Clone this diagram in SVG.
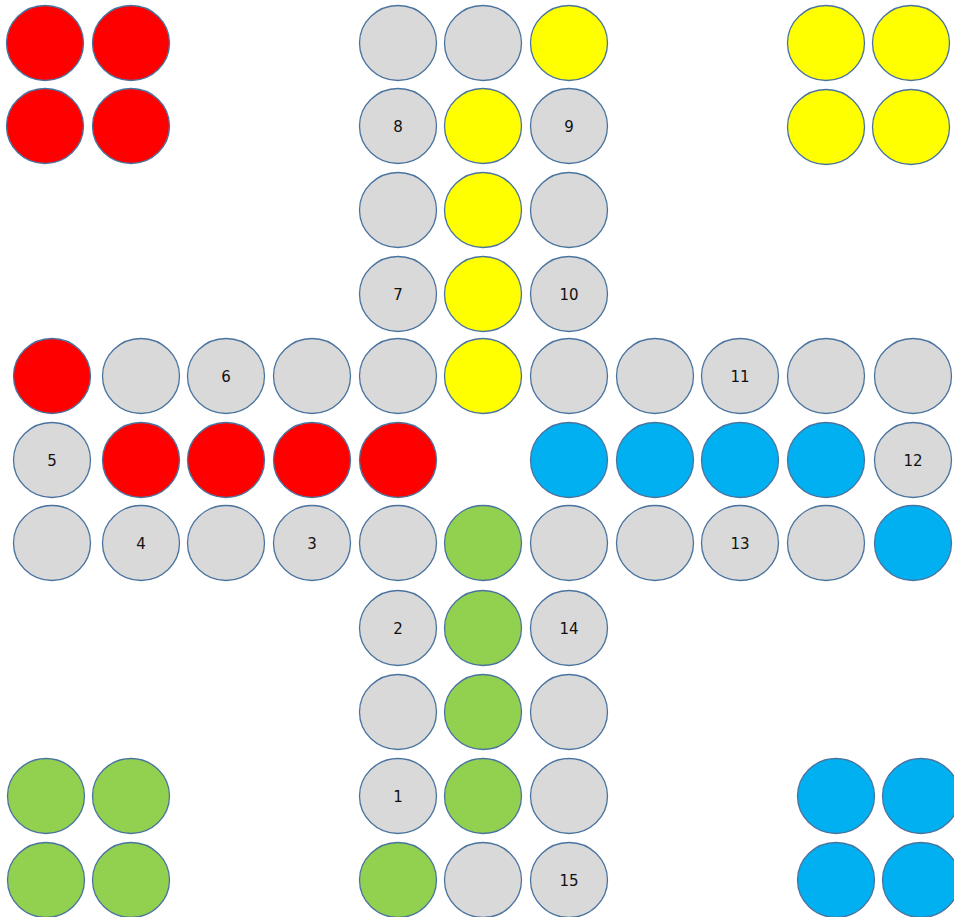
<svg xmlns="http://www.w3.org/2000/svg" width="954" height="917" viewBox="0 0 954 917">
<style>
ellipse{stroke:#4A74A0;stroke-width:1.3}
.g{fill:#D9D9D9}
.r{fill:#FF0000}
.y{fill:#FFFF00}
.n{fill:#92D050}
.b{fill:#00B0F0}
text{font-family:"DejaVu Sans",Verdana,sans-serif;font-size:15px;fill:#111111;text-anchor:middle}
</style>
<rect width="954" height="917" fill="#FFFFFF"/>
<g id="connectors"/>
<g id="red-home-1"><ellipse class="r" cx="45" cy="43" rx="38.5" ry="37.5"/></g>
<g id="red-home-2"><ellipse class="r" cx="131" cy="43" rx="38.5" ry="37.5"/></g>
<g id="red-home-3"><ellipse class="r" cx="45" cy="126" rx="38.5" ry="37.5"/></g>
<g id="red-home-4"><ellipse class="r" cx="131" cy="126" rx="38.5" ry="37.5"/></g>
<g id="yellow-home-1"><ellipse class="y" cx="826" cy="43" rx="38.5" ry="37.5"/></g>
<g id="yellow-home-2"><ellipse class="y" cx="911" cy="43" rx="38.5" ry="37.5"/></g>
<g id="yellow-home-3"><ellipse class="y" cx="826" cy="127" rx="38.5" ry="37.5"/></g>
<g id="yellow-home-4"><ellipse class="y" cx="911" cy="127" rx="38.5" ry="37.5"/></g>
<g id="green-home-1"><ellipse class="n" cx="46" cy="796" rx="38.5" ry="37.5"/></g>
<g id="green-home-2"><ellipse class="n" cx="131" cy="796" rx="38.5" ry="37.5"/></g>
<g id="green-home-3"><ellipse class="n" cx="46" cy="880" rx="38.5" ry="37.5"/></g>
<g id="green-home-4"><ellipse class="n" cx="131" cy="880" rx="38.5" ry="37.5"/></g>
<g id="blue-home-1"><ellipse class="b" cx="836" cy="796" rx="38.5" ry="37.5"/></g>
<g id="blue-home-2"><ellipse class="b" cx="921" cy="796" rx="38.5" ry="37.5"/></g>
<g id="blue-home-3"><ellipse class="b" cx="836" cy="880" rx="38.5" ry="37.5"/></g>
<g id="blue-home-4"><ellipse class="b" cx="921" cy="880" rx="38.5" ry="37.5"/></g>
<g id="t1a"><ellipse class="g" cx="398" cy="43" rx="38.5" ry="37.5"/></g>
<g id="t1b"><ellipse class="g" cx="483" cy="43" rx="38.5" ry="37.5"/></g>
<g id="t1c"><ellipse class="y" cx="569" cy="43" rx="38.5" ry="37.5"/></g>
<g id="t2a"><ellipse class="g" cx="398" cy="126" rx="38.5" ry="37.5"/><text x="398" y="131.5">8</text></g>
<g id="t2b"><ellipse class="y" cx="483" cy="126" rx="38.5" ry="37.5"/></g>
<g id="t2c"><ellipse class="g" cx="569" cy="126" rx="38.5" ry="37.5"/><text x="569" y="131.5">9</text></g>
<g id="t3a"><ellipse class="g" cx="398" cy="210" rx="38.5" ry="37.5"/></g>
<g id="t3b"><ellipse class="y" cx="483" cy="210" rx="38.5" ry="37.5"/></g>
<g id="t3c"><ellipse class="g" cx="569" cy="210" rx="38.5" ry="37.5"/></g>
<g id="t4a"><ellipse class="g" cx="398" cy="294" rx="38.5" ry="37.5"/><text x="398" y="299.5">7</text></g>
<g id="t4b"><ellipse class="y" cx="483" cy="294" rx="38.5" ry="37.5"/></g>
<g id="t4c"><ellipse class="g" cx="569" cy="294" rx="38.5" ry="37.5"/><text x="569" y="299.5">10</text></g>
<g id="r5-1"><ellipse class="r" cx="52" cy="376" rx="38.5" ry="37.5"/></g>
<g id="r5-2"><ellipse class="g" cx="141" cy="376" rx="38.5" ry="37.5"/></g>
<g id="r5-3"><ellipse class="g" cx="226" cy="376" rx="38.5" ry="37.5"/><text x="226" y="381.5">6</text></g>
<g id="r5-4"><ellipse class="g" cx="312" cy="376" rx="38.5" ry="37.5"/></g>
<g id="r5-5"><ellipse class="g" cx="398" cy="376" rx="38.5" ry="37.5"/></g>
<g id="r5-6"><ellipse class="y" cx="483" cy="376" rx="38.5" ry="37.5"/></g>
<g id="r5-7"><ellipse class="g" cx="569" cy="376" rx="38.5" ry="37.5"/></g>
<g id="r5-8"><ellipse class="g" cx="655" cy="376" rx="38.5" ry="37.5"/></g>
<g id="r5-9"><ellipse class="g" cx="740" cy="376" rx="38.5" ry="37.5"/><text x="740" y="381.5">11</text></g>
<g id="r5-10"><ellipse class="g" cx="826" cy="376" rx="38.5" ry="37.5"/></g>
<g id="r5-11"><ellipse class="g" cx="913" cy="376" rx="38.5" ry="37.5"/></g>
<g id="r6-1"><ellipse class="g" cx="52" cy="460" rx="38.5" ry="37.5"/><text x="52" y="465.5">5</text></g>
<g id="r6-2"><ellipse class="r" cx="141" cy="460" rx="38.5" ry="37.5"/></g>
<g id="r6-3"><ellipse class="r" cx="226" cy="460" rx="38.5" ry="37.5"/></g>
<g id="r6-4"><ellipse class="r" cx="312" cy="460" rx="38.5" ry="37.5"/></g>
<g id="r6-5"><ellipse class="r" cx="398" cy="460" rx="38.5" ry="37.5"/></g>
<g id="r6-7"><ellipse class="b" cx="569" cy="460" rx="38.5" ry="37.5"/></g>
<g id="r6-8"><ellipse class="b" cx="655" cy="460" rx="38.5" ry="37.5"/></g>
<g id="r6-9"><ellipse class="b" cx="740" cy="460" rx="38.5" ry="37.5"/></g>
<g id="r6-10"><ellipse class="b" cx="826" cy="460" rx="38.5" ry="37.5"/></g>
<g id="r6-11"><ellipse class="g" cx="913" cy="460" rx="38.5" ry="37.5"/><text x="913" y="465.5">12</text></g>
<g id="r7-1"><ellipse class="g" cx="52" cy="543" rx="38.5" ry="37.5"/></g>
<g id="r7-2"><ellipse class="g" cx="141" cy="543" rx="38.5" ry="37.5"/><text x="141" y="548.5">4</text></g>
<g id="r7-3"><ellipse class="g" cx="226" cy="543" rx="38.5" ry="37.5"/></g>
<g id="r7-4"><ellipse class="g" cx="312" cy="543" rx="38.5" ry="37.5"/><text x="312" y="548.5">3</text></g>
<g id="r7-5"><ellipse class="g" cx="398" cy="543" rx="38.5" ry="37.5"/></g>
<g id="r7-6"><ellipse class="n" cx="483" cy="543" rx="38.5" ry="37.5"/></g>
<g id="r7-7"><ellipse class="g" cx="569" cy="543" rx="38.5" ry="37.5"/></g>
<g id="r7-8"><ellipse class="g" cx="655" cy="543" rx="38.5" ry="37.5"/></g>
<g id="r7-9"><ellipse class="g" cx="740" cy="543" rx="38.5" ry="37.5"/><text x="740" y="548.5">13</text></g>
<g id="r7-10"><ellipse class="g" cx="826" cy="543" rx="38.5" ry="37.5"/></g>
<g id="r7-11"><ellipse class="b" cx="913" cy="543" rx="38.5" ry="37.5"/></g>
<g id="b1a"><ellipse class="g" cx="398" cy="628" rx="38.5" ry="37.5"/><text x="398" y="633.5">2</text></g>
<g id="b1b"><ellipse class="n" cx="483" cy="628" rx="38.5" ry="37.5"/></g>
<g id="b1c"><ellipse class="g" cx="569" cy="628" rx="38.5" ry="37.5"/><text x="569" y="633.5">14</text></g>
<g id="b2a"><ellipse class="g" cx="398" cy="712" rx="38.5" ry="37.5"/></g>
<g id="b2b"><ellipse class="n" cx="483" cy="712" rx="38.5" ry="37.5"/></g>
<g id="b2c"><ellipse class="g" cx="569" cy="712" rx="38.5" ry="37.5"/></g>
<g id="b3a"><ellipse class="g" cx="398" cy="796" rx="38.5" ry="37.5"/><text x="398" y="801.5">1</text></g>
<g id="b3b"><ellipse class="n" cx="483" cy="796" rx="38.5" ry="37.5"/></g>
<g id="b3c"><ellipse class="g" cx="569" cy="796" rx="38.5" ry="37.5"/></g>
<g id="b4a"><ellipse class="n" cx="398" cy="880" rx="38.5" ry="37.5"/></g>
<g id="b4b"><ellipse class="g" cx="483" cy="880" rx="38.5" ry="37.5"/></g>
<g id="b4c"><ellipse class="g" cx="569" cy="880" rx="38.5" ry="37.5"/><text x="569" y="885.5">15</text></g>
</svg>
